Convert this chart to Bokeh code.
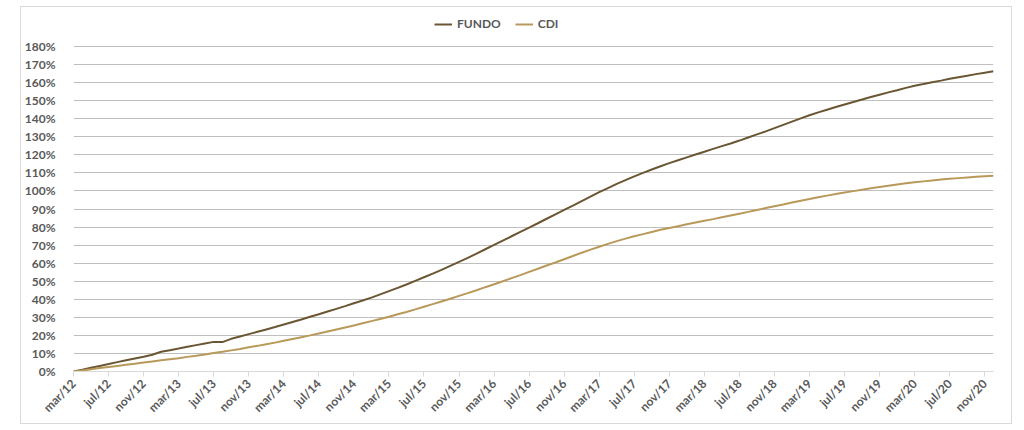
from bokeh.plotting import figure
from bokeh.models import (Range1d, FixedTicker, Legend, LegendItem, ColumnDataSource)
from bokeh.embed import file_html
from bokeh.resources import INLINE
import math

# monthly points, mar/12 (index 0) .. dec/20 (index 105)
fundo = [
    0.0, 1.0, 2.1, 3.1, 4.1, 5.2, 6.2, 7.2, 8.2, 9.3,
    10.9, 11.8, 12.7, 13.7, 14.6, 15.5, 16.4, 16.3, 18.1, 19.4,
    20.7, 22.0, 23.3, 24.6, 26.0, 27.4, 28.8, 30.3, 31.7, 33.2,
    34.7, 36.2, 37.8, 39.3, 40.9, 42.7, 44.5, 46.3, 48.2, 50.2,
    52.2, 54.2, 56.3, 58.5, 60.7, 62.9, 65.3, 67.7, 70.1, 72.5,
    74.9, 77.3, 79.7, 82.1, 84.6, 87.0, 89.5, 91.9, 94.4, 96.8,
    99.3, 101.6, 103.9, 106.0, 108.1, 110.0, 111.9, 113.7, 115.4, 117.0,
    118.6, 120.2, 121.7, 123.3, 124.8, 126.3, 127.9, 129.6, 131.3, 133.0,
    134.8, 136.6, 138.4, 140.2, 141.9, 143.5, 145.0, 146.5, 147.9, 149.3,
    150.6, 152.0, 153.3, 154.6, 155.8, 157.1, 158.3, 159.2, 160.2, 161.1,
    162.1, 163.0, 163.8, 164.7, 165.5, 166.3,
]
cdi = [
    0.0, 0.6, 1.2, 1.9, 2.5, 3.1, 3.7, 4.3, 5.0, 5.6,
    6.2, 6.8, 7.4, 8.1, 8.7, 9.4, 10.2, 10.9, 11.7, 12.5,
    13.4, 14.2, 15.1, 16.0, 17.0, 18.0, 19.0, 20.0, 21.1, 22.2,
    23.3, 24.4, 25.5, 26.7, 27.9, 29.1, 30.3, 31.7, 33.0, 34.4,
    35.9, 37.3, 38.8, 40.3, 41.9, 43.4, 45.0, 46.7, 48.3, 50.0,
    51.7, 53.4, 55.2, 56.9, 58.7, 60.4, 62.2, 64.0, 65.8, 67.5,
    69.1, 70.7, 72.2, 73.6, 74.9, 76.1, 77.3, 78.5, 79.5, 80.5,
    81.5, 82.5, 83.5, 84.4, 85.4, 86.4, 87.4, 88.4, 89.4, 90.5,
    91.5, 92.5, 93.6, 94.6, 95.5, 96.5, 97.4, 98.3, 99.1, 99.9,
    100.7, 101.5, 102.2, 102.9, 103.6, 104.2, 104.8, 105.3, 105.8, 106.3,
    106.7, 107.1, 107.5, 107.8, 108.1, 108.4,
]
tick_labels = [
    "mar/12", "jul/12", "nov/12", "mar/13", "jul/13", "nov/13", "mar/14",
    "jul/14", "nov/14", "mar/15", "jul/15", "nov/15", "mar/16", "jul/16",
    "nov/16", "mar/17", "jul/17", "nov/17", "mar/18", "jul/18", "nov/18",
    "mar/19", "jul/19", "nov/19", "mar/20", "jul/20", "nov/20",
]
tick_positions = [4 * i for i in range(len(tick_labels))]
y_ticks = list(range(0, 181, 10))
y_labels = ["%d%%" % v for v in y_ticks]

months = list(range(len(fundo)))
src = ColumnDataSource(dict(m=months, fundo=fundo, cdi=cdi))

FONT = "Lato"
GRAY = "#595959"

# frame spans canvas top (legend lives inside); 180% sits 39px below the top
p = figure(width=992, height=418, output_backend="svg", toolbar_location=None,
           x_range=Range1d(0, 105), y_range=Range1d(0, 180 * 364 / 325),
           min_border_left=48, min_border_right=20, min_border_top=0,
           min_border_bottom=54)
p.styles = {"margin-left": "20px", "margin-top": "6px",
            "border": "1px solid #d9d9d9"}
p.title.visible = False
p.outline_line_color = None
p.background_fill_color = "white"
p.border_fill_color = "white"

r1 = p.line("m", "fundo", source=src, line_color="#6b5633", line_width=2)
r2 = p.line("m", "cdi", source=src, line_color="#b8995a", line_width=2)

# axes
xa = p.xaxis[0]
xa.ticker = FixedTicker(ticks=tick_positions)
xa.major_label_overrides = {t: l for t, l in zip(tick_positions, tick_labels)}
xa.major_label_orientation = math.pi / 4
xa.axis_line_color = "#d9d9d9"
xa.major_tick_line_color = "#d9d9d9"
xa.major_tick_out = 5
xa.major_tick_in = 0
xa.minor_tick_line_color = None
xa.major_label_text_font = FONT
xa.major_label_text_font_style = "bold"
xa.major_label_text_font_size = "12px"
xa.major_label_text_color = GRAY
xa.major_label_standoff = 5

ya = p.yaxis[0]
ya.ticker = FixedTicker(ticks=y_ticks)
ya.major_label_overrides = {t: l for t, l in zip(y_ticks, y_labels)}
ya.axis_line_color = None
ya.major_tick_line_color = None
ya.minor_tick_line_color = None
ya.major_label_text_font = FONT
ya.major_label_text_font_style = "bold"
ya.major_label_text_font_size = "12px"
ya.major_label_text_color = GRAY
ya.major_label_standoff = 12

p.xgrid.visible = False
p.ygrid.ticker = FixedTicker(ticks=y_ticks[1:])
p.ygrid.grid_line_color = "#bfbfbf"
p.ygrid.grid_line_width = 1

legend = Legend(items=[LegendItem(label="FUNDO", renderers=[r1]),
                       LegendItem(label="CDI", renderers=[r2])],
                orientation="horizontal", location=(361, 340))
legend.label_text_font = FONT
legend.label_text_font_style = "bold"
legend.label_text_font_size = "12px"
legend.label_text_color = GRAY
legend.glyph_width = 18
legend.glyph_height = 14
legend.label_height = 14
legend.spacing = 14
legend.padding = 0
legend.margin = 0
legend.border_line_color = None
legend.background_fill_alpha = 0
p.add_layout(legend)

open("out.html", "w").write(file_html(p, INLINE))
